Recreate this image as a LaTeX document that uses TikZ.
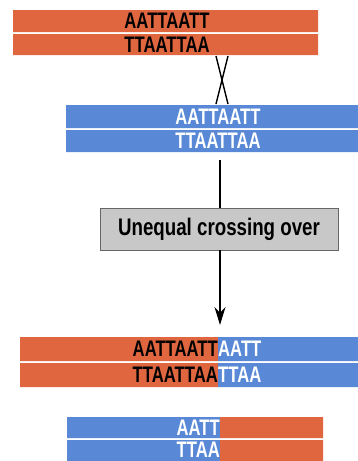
\documentclass[tikz,border=0pt]{standalone}
\usepackage{fontspec}
\usepackage{xcolor}
\usepackage{tikz}
\usetikzlibrary{arrows.meta}
\newfontfamily\dnafont[FakeStretch=0.74]{Liberation Sans}
\newfontfamily\labelfont[FakeStretch=0.78]{Liberation Sans}
\definecolor{dnared}{RGB}{224,102,64}
\definecolor{dnablue}{RGB}{88,136,214}
\definecolor{boxgray}{RGB}{200,200,200}

\begin{document}
\begin{tikzpicture}[x=1pt,y=-1pt,
  base/.style={inner sep=0pt,font=\dnafont\bfseries\fontsize{22.5}{22.5}\selectfont},
  dark/.style={base,text=black},
  light/.style={base,text=white},
  stepbox/.style={draw=gray!80!black,fill=boxgray,line width=0.6pt,minimum width=238pt,minimum height=42pt,inner sep=0pt,font=\labelfont\bfseries\fontsize{24}{24}\selectfont}]
\useasboundingbox(0,0)rectangle(358,461);
% top pair
\fill[dnared](13,10)rectangle(318,32)(13,34)rectangle(318,55);
\node[dark](r1)at(167,21){AATTAATT};
\node[dark](r2)at(167,44.5){TTAATTAA};
% second pair
\fill[dnablue](66,105)rectangle(358,128)(66,130)rectangle(358,152);
\node[light](b1)at(218,116.5){AATTAATT};
\node[light](b2)at(218,141){TTAATTAA};
% crossing
\coordinate(xa)at(216,56);\coordinate(xb)at(228,56);
\coordinate(xc)at(216,104);\coordinate(xd)at(228,104);
\draw[line width=1.4pt](xa)--(xd)(xb)--(xc);
% process
\node[stepbox](uco)at(219,229){Unequal crossing over};
\coordinate(top)at(220,160);\coordinate(tip)at(220,325);
\draw[line width=1.5pt](top)--(top|-uco.north);
\draw[line width=1.5pt,-{Stealth[length=18pt,width=11pt]}](top|-uco.south)--(tip);
% products
\fill[dnared](20,337)rectangle(218,361)(20,363)rectangle(218,387);
\fill[dnablue](218,337)rectangle(358,361)(218,363)rectangle(358,387);
\node[dark,anchor=east](p1)at(218,349){AATTAATT};
\node[dark,anchor=east](p2)at(218,375){TTAATTAA};
\node[light,anchor=west](q1)at(218,349){AATT};
\node[light,anchor=west](q2)at(218,375){TTAA};
\fill[dnablue](67,417)rectangle(220,438)(67,440)rectangle(220,461);
\fill[dnared](220,417)rectangle(323,438)(220,440)rectangle(323,461);
\node[light,anchor=east](s1)at(220,427.5){AATT};
\node[light,anchor=east](s2)at(220,449.5){TTAA};
\end{tikzpicture}
\end{document}
